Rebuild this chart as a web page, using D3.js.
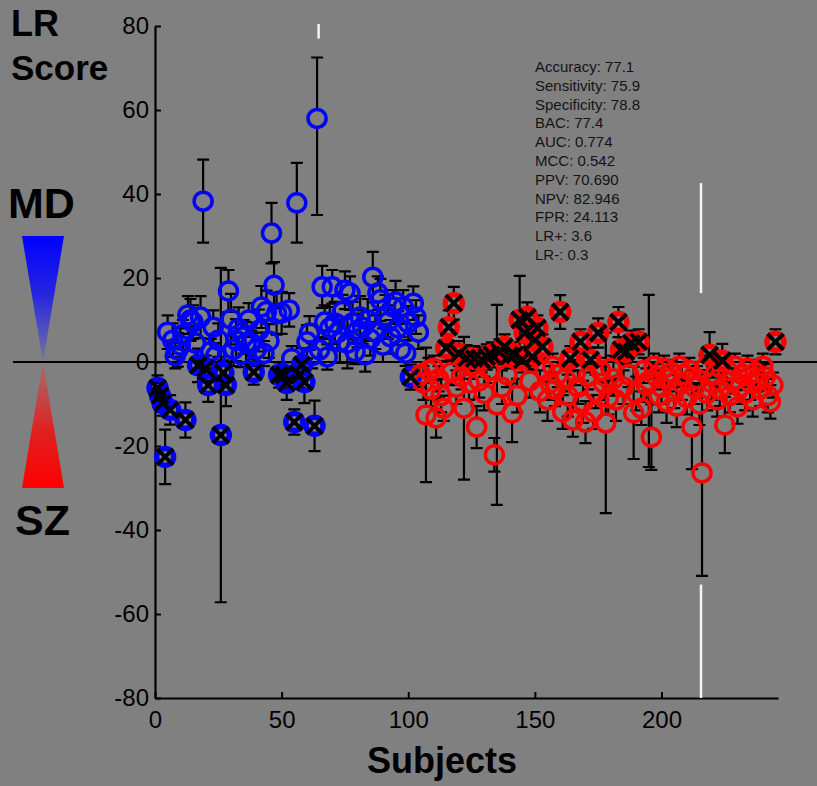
<!DOCTYPE html>
<html><head><meta charset="utf-8">
<script src="https://cdn.jsdelivr.net/npm/d3@7"></script>
<style>html,body{margin:0;padding:0;background:#808080;} svg{display:block;}</style>
</head><body><svg id="c" width="817" height="786"></svg>
<script>
// MD subjects 1..104 (blue), SZ subjects 105..245 (red)
const mdScores = [
 -6.2,-8,-9.8,-22.6,7.1,-11.4,5.2,1.5,2.9,4,
 6.5,-13.8,11.2,10,9.5,4.5,-0.8,10.7,38.3,-1.5,
 -5.5,2.5,8.3,1.5,5.2,-17.4,-2.6,-5.5,16.9,10.2,
 3,5.2,8,1.8,6,4.5,10,4.5,-2.4,3,
 7.5,13.1,2,12,5,30.7,18.3,11.5,-3.1,11.7,
 -3.1,-5,12.4,0.8,-14.3,37.9,-3.1,-0.7,-4.8,4.8,
 6.9,1.5,-15.2,58,2.9,17.9,9.5,1.2,8.1,17.9,
 9.3,6.9,4.8,12,17.1,4.5,16.4,9.3,2.5,7.5,
 10.7,8.3,1.7,10,5.5,20.2,7.1,16.4,14.8,4,
 11,9.5,6,13.1,14.3,8.1,3,13.1,2.1,9.3,
 -3.6,14,10.7,7.1
];
const mdErr = [
 3,3,3,6.5,4,3.5,4,3,4,4,
 3.5,4.2,4.5,5,4,4,4,5,9.9,3,
 4,3,4,3,4,39.8,3,5,5,6,
 4,5,5,3,4,5,4,3,3,4,
 5,5,3,5,4,7.2,5.5,5,3,5,
 3,4,4,3,3,9.5,3,4,5,4,
 4,3,6,23,3,5,4,3,5,4,
 5,4,5,4,4.5,6,4,5,3,4,
 5,4,4,5,4,6,4,4,5,4,
 5,4,4,4,5,4,3,4,3,4,
 3,4,4,4
];
const szScores = [
 -3,-5,-12.6,-2,-6.5,-1.5,-13.3,-4,-8,-11,
 3.3,8.3,-2.5,14,-6,2,-3.5,-11,1,-5,
 -1,0.8,-15.5,-4.5,0.5,-7.5,1.2,-2,1.7,-22.1,
 -10.2,2.4,-6,3.6,-3,1.5,-12.1,1.7,-8,10,
 0.5,6.9,10.7,-4.5,1.2,5.2,8.1,-7,3.6,-2,
 -9,-5,-1,-6.5,-3,11.9,-11.9,-4,-8,0.8,
 -13.8,-2.5,-6,4.8,-9.5,-14.3,-3.5,0.5,-11.9,-7,
 6.9,-2,-5,-14.5,-8.5,-1.5,-4,-9,9.5,2.9,
 -6,2.4,-3,4.5,-12.1,-7.5,4.8,-11,-2,-5.5,
 -4.5,-17.9,-1,-3.5,-8,-6,-1.5,-9.5,-4,-2.5,
 -7,-10.5,-1,-5,-3,-8.5,-2,-15.5,-6,-4,
 -10,-26.4,-1.5,-7.5,1.7,-5,-3,-9,-6.5,0.3,
 -15,-2,-8,-4.5,-1,-10.7,-6,-3,-7.5,-1.5,
 -5,-9,-2.5,-4,-6.5,-1,-3.5,-8,-9.5,-5.5,
 4.8
];
const szErr = [
 3,4,16,3,4,3,4.7,3,4,3,
 3,4,3,3.9,4,3,3,17,3,4,
 3,3,5,4,3,4,3,3,3,4,
 23.8,3,4,3,3,3,7,3,4,10.5,
 3,4,3.5,4,3,4,3,5,3,3,
 5,4,3,4,3,4,4,3,5,3,
 4,3,4,3,5,5,3,3,4,4,
 3.5,3,4,21.5,4,3,4,5,3.6,3,
 4,3,3,3,11,4,3,4,3,4,
 20.5,7.8,3,3,4,4,3,5,3,3,
 4,5,3,4,3,4,3,10,4,3,
 5,24.5,3,4,5.4,4,3,4,4,4,
 6.7,3,4,3,3,4,4,3,4,3,
 4,4,3,3,4,3,3,4,4,3,
 3
];
// [subject, upper half-width] where the bar is not symmetric
const upperErr = [[64, 14.5]];
const yTicks = [-80,-60,-40,-20,0,20,40,60,80];
const xTicks = [0,50,100,150,200];
const statLabels = ["Accuracy: 77.1","Sensitivity: 75.9","Specificity: 78.8","BAC: 77.4","AUC: 0.774","MCC: 0.542","PPV: 70.690","NPV: 82.946","FPR: 24.113","LR+: 3.6","LR-: 0.3"];
// white compression artefacts: [subject, from, to]
const artifacts = [[215.6, 42.6, 16.4], [215.6, -53, -80], [64.6, 80.5, 77]];

const svg = d3.select("#c");
const FONT = "'Liberation Sans', Arial, Helvetica, sans-serif";
svg.append("rect").attr("width",817).attr("height",786).attr("fill","#808080");

const x = d3.scaleLinear().domain([0,246]).range([155,778]);
const y = d3.scaleLinear().domain([-80,80]).range([698,26]);

// legend triangles
const defs = svg.append("defs");
const gb = defs.append("linearGradient").attr("id","gb").attr("x1",0).attr("y1",0).attr("x2",0).attr("y2",1);
gb.append("stop").attr("offset","0%").attr("stop-color","#0000ff");
gb.append("stop").attr("offset","45%").attr("stop-color","#2424e0");
gb.append("stop").attr("offset","100%").attr("stop-color","#7676a0");
const gr = defs.append("linearGradient").attr("id","gr").attr("x1",0).attr("y1",0).attr("x2",0).attr("y2",1);
gr.append("stop").attr("offset","0%").attr("stop-color","#a07070");
gr.append("stop").attr("offset","55%").attr("stop-color","#e02020");
gr.append("stop").attr("offset","100%").attr("stop-color","#ff0000");
svg.append("path").attr("d",`M22,${y(30)}L64,${y(30)}L43,${y(0)}Z`).attr("fill","url(#gb)");
svg.append("path").attr("d",`M43,${y(0)}L64,${y(-30)}L22,${y(-30)}Z`).attr("fill","url(#gr)");

// zero line
svg.append("line").attr("x1",13).attr("x2",817).attr("y1",y(0)).attr("y2",y(0)).attr("stroke","#000").attr("stroke-width",2);

// axes
const ya = svg.append("g").attr("transform","translate(155,0)")
  .call(d3.axisLeft(y).tickValues(yTicks).tickFormat(d=>String(d)).tickSize(-6).tickSizeOuter(0).tickPadding(6));
const xa = svg.append("g").attr("transform","translate(0,698)")
  .call(d3.axisBottom(x).tickValues(xTicks).tickFormat(d=>String(d)).tickSize(-6).tickSizeOuter(0).tickPadding(13));
[ya,xa].forEach(a=>{
  a.select(".domain").attr("stroke","#000").attr("stroke-width",2.2);
  a.selectAll(".tick line").attr("stroke","#000").attr("stroke-width",2);
  a.selectAll("text").attr("fill","#000").style("font-family",FONT).style("font-size","24px");
});

// artefacts
artifacts.forEach(a=>{
  svg.append("line").attr("x1",x(a[0])).attr("x2",x(a[0])).attr("y1",y(a[1])).attr("y2",y(a[2]))
    .attr("stroke","#fff").attr("stroke-width",2.5).attr("opacity",0.9);
});

// data
const pts = [];
mdScores.forEach((v,k)=>pts.push({i:k+1,v,e:mdErr[k],g:"md"}));
szScores.forEach((v,k)=>pts.push({i:k+105,v,e:szErr[k],g:"sz"}));
upperErr.forEach(([s,u])=>{ pts[s-1].eu = u; });
const R = 9, CAP = 6;

const bars = svg.append("g").attr("stroke","#000").attr("stroke-width",2.2).attr("fill","none");
pts.forEach(p=>{
  const cx = x(p.i), cy = y(p.v);
  const top = y(p.v + (p.eu!==undefined?p.eu:p.e)), bot = y(p.v - p.e);
  let d = "";
  if (cy - top > R) d += `M${cx},${top}V${cy-R}`;
  if (bot - cy > R) d += `M${cx},${cy+R}V${bot}`;
  d += `M${cx-CAP},${top}H${cx+CAP}M${cx-CAP},${bot}H${cx+CAP}`;
  bars.append("path").attr("d",d);
});

const isWrong = p => (p.g==="md" && p.v<0) || (p.g==="sz" && p.v>0);
const marks = svg.append("g");
pts.forEach(p=>{
  const wrong = isWrong(p);
  marks.append("circle").attr("cx",x(p.i)).attr("cy",y(p.v)).attr("r",wrong?8.5:R)
    .attr("fill","none").attr("stroke",p.g==="md"?"#0000ff":"#ff0000").attr("stroke-width",wrong?5.5:3.5);
});
pts.forEach(p=>{
  if(!isWrong(p)) return;
  const cx=x(p.i), cy=y(p.v), s=8;
  marks.append("path").attr("d",`M${cx-s},${cy-s}L${cx+s},${cy+s}M${cx-s},${cy+s}L${cx+s},${cy-s}`)
    .attr("stroke","#000").attr("stroke-width",4);
});

// texts
const T = (t,xx,yy,size,bold,anchor)=>svg.append("text").text(t).attr("x",xx).attr("y",yy)
  .attr("font-family",FONT).attr("font-size",size).attr("font-weight",bold?"bold":"normal")
  .attr("text-anchor",anchor||"start").attr("fill","#000");
T("LR",11,36,36,true);
T("Score",11,80,35,true);
T("MD",8,218,43,true);
T("SZ",15,535,43,true);
T("Subjects",442,773,36,true,"middle");
statLabels.forEach((s,k)=>T(s,535,72+k*18.8,15,false).attr("fill","#141414"));
</script></body></html>
